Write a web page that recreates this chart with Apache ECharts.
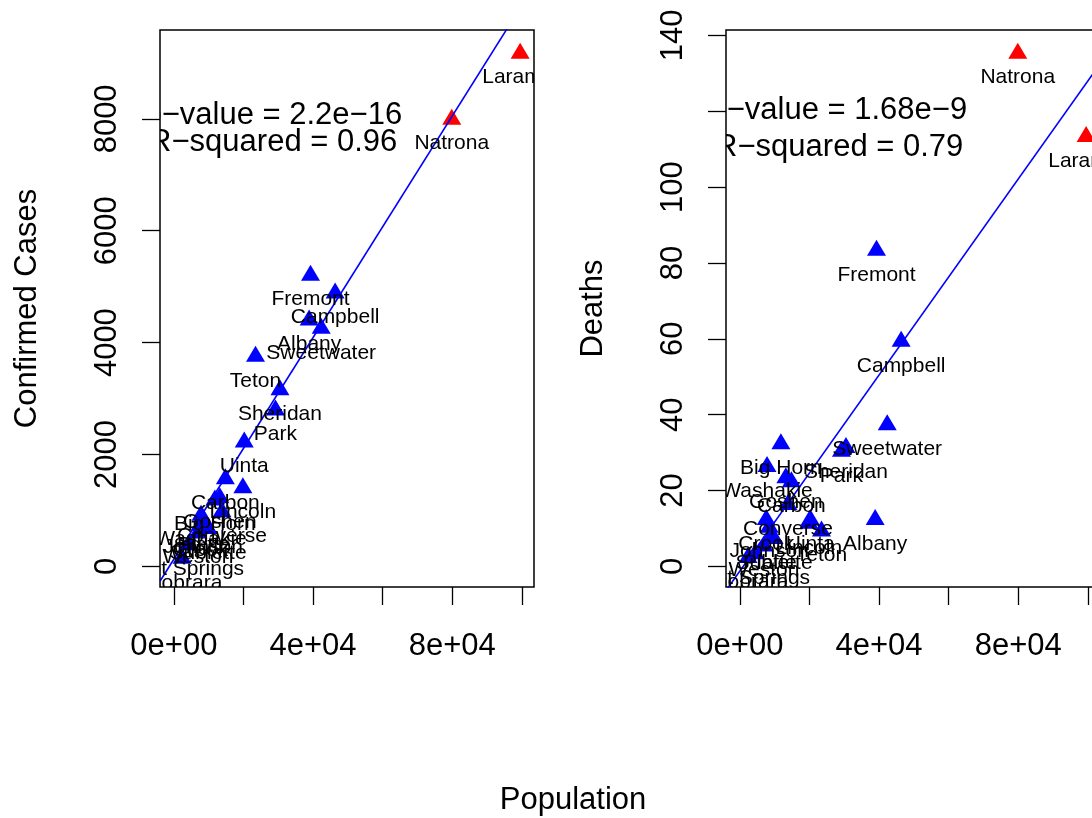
<!DOCTYPE html>
<html>
<head>
<meta charset="utf-8">
<title>Wyoming counties: cases and deaths vs population</title>
<script src="https://cdn.jsdelivr.net/npm/echarts@6/dist/echarts.min.js"></script>
<style>
  html, body { margin: 0; padding: 0; background: #fff; }
  #chart { width: 1092px; height: 818px; }
</style>
</head>
<body>
<div id="chart"></div>
<script>
// County data
const counties = ['Albany', 'Big Horn', 'Campbell', 'Carbon', 'Converse', 'Crook', 'Fremont',
  'Goshen', 'Hot Springs', 'Johnson', 'Laramie', 'Lincoln', 'Natrona', 'Niobrara', 'Park',
  'Platte', 'Sheridan', 'Sublette', 'Sweetwater', 'Teton', 'Uinta', 'Washakie', 'Weston'];
const population = [38880, 11790, 46341, 14800, 13822, 7584, 39261,
  13211, 4413, 8445, 99500, 19830, 79858, 2356, 29194,
  8605, 30485, 9831, 42343, 23464, 20226, 7805, 6927];
const cases = [4450, 1230, 4930, 1610, 1020, 780, 5250,
  1270, 430, 820, 9220, 1450, 8040, 190, 2840,
  870, 3200, 720, 4300, 3800, 2270, 960, 640];
const deaths = [13, 33, 60, 23, 17, 13, 84,
  24, 4, 11, 114, 12, 136, 3, 31,
  8, 32, 8, 38, 10, 13, 27, 6];
const highlighted = ['Laramie', 'Natrona'];

// Axis ticks and labels
const popTicks = [0, 20000, 40000, 60000, 80000, 100000];
const popLabels = [0, 40000, 80000];
const caseTicks = [0, 2000, 4000, 6000, 8000];
const caseLabels = [0, 2000, 4000, 6000, 8000];
const deathTicks = [0, 20, 40, 60, 80, 100, 120, 140];
const deathLabels = [0, 20, 40, 60, 80, 100, 140];

// Fit statistics text
const casesStats = ['p\u2212value = 2.2e\u221216', 'R\u2212squared = 0.96'];
const deathsStats = ['p\u2212value = 1.68e\u22129', 'R\u2212squared = 0.79'];

const FONT = '"Liberation Sans", Arial, Helvetica, sans-serif';
const BIG = 31;
const SMALL = 21;

function fit(xs, ys) {
  const n = xs.length;
  const mx = xs.reduce((a, b) => a + b, 0) / n;
  const my = ys.reduce((a, b) => a + b, 0) / n;
  let sxy = 0, sxx = 0;
  for (let i = 0; i < n; i++) {
    sxy += (xs[i] - mx) * (ys[i] - my);
    sxx += (xs[i] - mx) * (xs[i] - mx);
  }
  const slope = sxy / sxx;
  return { slope, intercept: my - slope * mx };
}

// R-style padded range: 4% on each side of [0, max]
function padded(max) { return [-0.04 * max, 1.04 * max]; }

function sci(v) {
  if (v === 0) return '0e+00';
  const e = Math.floor(Math.log10(Math.abs(v)) + 1e-9);
  const m = v / Math.pow(10, e);
  return m + 'e+' + String(e).padStart(2, '0');
}

const xRange = padded(Math.max(...population));
const tickStyle = { color: '#000', width: 1.3 };

function panelAxes(gridIndex, yVals, yTicks, yLabelVals, yName) {
  const yRange = padded(Math.max(...yVals));
  const x = {
    type: 'value', gridIndex, min: xRange[0], max: xRange[1], position: 'bottom',
    splitLine: { show: false },
    axisLine: { show: false, onZero: false },
    axisTick: { show: true, inside: false, customValues: popTicks, length: 18, lineStyle: tickStyle },
    axisLabel: { customValues: popLabels, formatter: sci, color: '#000', fontSize: BIG, fontFamily: FONT, margin: 44 }
  };
  const y = {
    type: 'value', gridIndex, min: yRange[0], max: yRange[1], position: 'left',
    splitLine: { show: false },
    axisLine: { show: false, onZero: false },
    axisTick: { show: true, inside: false, customValues: yTicks, length: 18, lineStyle: tickStyle },
    axisLabel: { customValues: yLabelVals, formatter: v => String(v), rotate: 90, color: '#000',
      fontSize: BIG, fontFamily: FONT, margin: 37 },
    name: yName, nameLocation: 'middle', nameRotate: 90, nameGap: 117,
    nameTextStyle: { color: '#000', fontSize: BIG, fontFamily: FONT },
    nameMoveOverlap: false
  };
  return { x, y };
}

function panelSeries(idx, yVals, stats, statAnchors) {
  const pts = population.map((p, i) => ({
    value: [p, yVals[i]],
    itemStyle: { color: highlighted.includes(counties[i]) ? '#ff0000' : '#0000ff', opacity: 1 }
  }));
  const f = fit(population, yVals);
  const lineData = [xRange[0], xRange[1]].map(x => [x, f.intercept + f.slope * x]);
  return [
    {
      type: 'scatter', xAxisIndex: idx, yAxisIndex: idx,
      symbol: 'triangle', symbolSize: [19, 16], data: pts, z: 3,
      itemStyle: { opacity: 1 }
    },
    {
      type: 'line', xAxisIndex: idx, yAxisIndex: idx, data: lineData,
      symbol: 'none', clip: true, lineStyle: { color: '#0000ff', width: 1.6 }, z: 4
    },
    {
      type: 'custom', xAxisIndex: idx, yAxisIndex: idx, clip: true, z: 5,
      data: population.map((p, i) => [p, yVals[i]]),
      encode: { x: 0, y: 1 },
      renderItem: (params, api) => {
        const c = api.coord([api.value(0), api.value(1)]);
        return {
          type: 'text', x: c[0], y: c[1] + 27,
          style: { text: counties[params.dataIndex], fill: '#000', font: SMALL + 'px ' + FONT,
            align: 'center', verticalAlign: 'middle' }
        };
      }
    },
    {
      type: 'custom', xAxisIndex: idx, yAxisIndex: idx, clip: true, z: 5,
      data: statAnchors,
      encode: { x: 0, y: 1 },
      renderItem: (params, api) => {
        const c = api.coord([api.value(0), api.value(1)]);
        return {
          type: 'text', x: c[0], y: c[1],
          style: { text: stats[params.dataIndex], fill: '#000', font: BIG + 'px ' + FONT,
            align: 'right', verticalAlign: 'middle' }
        };
      }
    }
  ];
}

const left = panelAxes(0, cases, caseTicks, caseLabels, 'Confirmed Cases');
const right = panelAxes(1, deaths, deathTicks, deathLabels, 'Deaths');

const gridBase = { top: 30, width: 374, height: 557, show: true, borderColor: '#000', borderWidth: 1.5,
  backgroundColor: 'transparent', containLabel: false, outerBoundsMode: 'none' };

const chart = echarts.init(document.getElementById('chart'), null, { renderer: 'canvas' });
chart.setOption({
  animation: false,
  backgroundColor: '#fff',
  textStyle: { fontFamily: FONT },
  grid: [Object.assign({ left: 160 }, gridBase), Object.assign({ left: 726 }, gridBase)],
  xAxis: [left.x, right.x],
  yAxis: [left.y, right.y],
  series: [
    ...panelSeries(0, cases, casesStats, [[65600, 8070], [64200, 7570]]),
    ...panelSeries(1, deaths, deathsStats, [[65300, 120.3], [64200, 110.5]])
  ],
  graphic: [{
    type: 'text', x: 573, y: 800,
    style: { text: 'Population', fill: '#000', font: BIG + 'px ' + FONT, align: 'center', verticalAlign: 'middle' }
  }]
});
</script>
</body>
</html>
